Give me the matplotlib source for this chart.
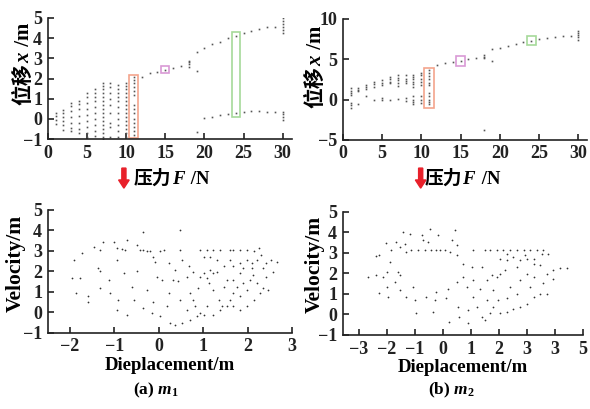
import matplotlib
matplotlib.use("Agg")
import matplotlib.pyplot as plt
from matplotlib.patches import Rectangle, FancyArrow

plt.rcParams['font.family'] = ['Liberation Serif', 'Noto Sans CJK SC', 'DejaVu Sans']
plt.rcParams['font.weight'] = 'bold'
plt.rcParams['mathtext.fontset'] = 'custom'
plt.rcParams['mathtext.rm'] = 'Liberation Serif:bold'
plt.rcParams['mathtext.it'] = 'Liberation Serif:italic:bold'
plt.rcParams['axes.unicode_minus'] = True

# bifurcation data, m1: force -> displacement values
bif1 = {
    1: [0.3, 0.15, -0.05, -0.25],
    2: [0.45, 0.3, 0.1, -0.1, -0.3, -0.55],
    3: [0.8, 0.65, 0.4, 0.1, -0.2, -0.45, -0.6],
    4: [0.9, 0.75, 0.5, 0.15, -0.2, -0.5, -0.7],
    5: [1.3, 1.1, 0.8, 0.5, 0.2, -0.1, -0.4, -0.7, -0.9],
    6: [1.5, 1.3, 1.1, 0.9, 0.6, 0.3, 0.0, -0.3, -0.6, -0.85],
    7: [1.8, 1.65, 1.5, 1.3, 1.1, 0.9, 0.7, 0.5, 0.3, 0.1, -0.1, -0.3, -0.5, -0.7, -0.9, -1.0],
    8: [1.8, 1.6, 1.3, 1.0, 0.7, 0.3, -0.2, -0.4, -0.9],
    9: [1.7, 1.5, 1.3, 1.1, 0.9, 0.6, 0.3, 0.0, -0.3, -0.6, -0.9],
    10: [1.8, 1.65, 1.5, 1.3, 1.1, 0.9, 0.7, 0.5, 0.3, 0.1, -0.1, -0.3, -0.5, -0.7, -0.9],
    11: [2.1, 1.95, 1.8, 1.6, 1.4, 1.2, 0.7, 0.5, 0.3, 0.0, -0.2, -0.4, -0.6, -0.8],
    12: [2.09], 13: [2.26], 14: [2.34], 15: [2.43], 16: [2.51], 17: [2.64],
    18: [2.59, 2.7, 2.8, 2.89],
    19: [3.33, 2.39, -0.63],
    20: [3.53, 0.03], 21: [3.7, 0.11], 22: [3.81, 0.18], 23: [4.0, 0.25],
    24: [4.11, 0.28], 25: [4.24, 0.36], 26: [4.37, 0.39], 27: [4.47, 0.39],
    28: [4.54, 0.36], 29: [4.54, 0.33],
    30: [4.27, 4.4, 4.55, 4.7, 4.85, 4.98, -0.05, 0.1, 0.22, 0.36],
}

# bifurcation data, m2
bif2 = {
    1: [1.4, 1.1, 0.8, 0.6, -0.4, -0.7, -1.0],
    2: [1.4, 1.2, 1.0, -0.5],
    3: [1.8, 1.5, 1.3, 0.4],
    4: [2.2, 1.9, 1.5, 0.0],
    5: [2.4, 2.1, 1.8, 0.2, 0.0],
    6: [2.8, 2.5, 2.2, 2.0, 0.0],
    7: [3.0, 2.7, 2.4, 2.0, 1.7, 0.1],
    8: [3.0, 2.6, 2.3, 2.0, 0.2, -0.2],
    9: [3.1, 2.8, 2.5, 2.2, 1.9, 1.6, 0.4, 0.0, -0.3, -0.6],
    10: [3.3, 3.0, 2.6, 2.2, 1.8, 0.4, 0.0, -0.4],
    11: [3.7, 3.3, 2.9, 2.5, 2.1, 1.8, 0.8, 0.4, 0.0, -0.3, -0.6],
    12: [4.3], 13: [4.5], 14: [4.63], 15: [4.83], 16: [5.0], 17: [5.13],
    18: [5.13, 5.3, 5.54, -3.75],
    19: [6.2, 4.83],
    20: [6.37], 21: [6.65], 22: [6.9], 23: [7.15], 24: [7.27], 25: [7.48],
    26: [7.6], 27: [7.72], 28: [7.85], 29: [7.85],
    30: [7.4, 7.7, 8.0, 8.2, 8.43],
}

# highlight boxes: (F0, F1, x0, x1, colour)
boxes1 = [(10.4, 11.5, -0.96, 2.18, '#f4a48c'),
          (14.4, 15.5, 2.26, 2.64, '#d99ad6'),
          (23.5, 24.5, 0.08, 4.29, '#a6d99a')]
boxes2 = [(10.4, 11.6, -1.07, 3.9, '#f4a48c'),
          (14.4, 15.6, 4.2, 5.4, '#d99ad6'),
          (23.4, 24.6, 6.7, 7.9, '#a6d99a')]

# phase portrait m1
disp1 = [-1.92, -1.96, -1.86, -1.59, -1.59, -1.74, -1.47, -1.32, -1.25, -1.36, -1.32, -1.10,
         -0.95, -1.02, -0.95, -0.83, -0.76, -0.72, -0.50, -0.42, -0.35, -0.27, -0.20, -0.36,
         -0.50, -0.91, -0.95, -0.72, -0.35, -0.27, -0.12, -0.08, -0.05, 0.03, 0.11, 0.07,
         0.22, 0.33, 0.48, 0.48, 0.52, 0.37, 0.44, 0.63, 0.03, 0.26, 0.37, 0.52, 0.71, 0.86,
         0.93, 1.01, 0.63, 0.78, 0.89, 0.93, 1.01, 1.08, 1.16, 1.23, 1.31, 1.12, 1.23, 1.35,
         1.42, 1.23, 0.93, 1.08, 1.23, 1.38, 1.01, 1.61, 1.68, 1.83, 1.98, 2.14, 2.29, 1.61,
         1.68, 1.83, 1.98, 2.09, 2.20, 2.42, 2.53, 2.65, 2.57, 2.42, 2.35, 2.27, 2.14, 1.98,
         1.83, 1.68, 1.61, 1.68, 1.76, 1.90, 2.05, 2.12, 2.20, 1.53, 1.46, 1.68, 1.83, 1.98,
         1.83, 1.53, 1.38, 1.08, 0.82, 0.71, 0.48, 0.18, -0.16, -0.56, -0.60, -0.78, -1.13,
         -1.32, -1.78, 2.45, 2.35, 2.09, 1.90, 1.46, 1.31, 1.16, 0.78, 0.67, 0.22, -0.12, 2.25]
vel1 = [2.56, 1.67, 0.94, 0.78, 0.53, 2.88, 3.20, 3.05, 3.45, 2.16, 1.18, 0.94,
        2.56, 3.45, 3.13, 3.08, 3.05, 3.53, 3.29, 3.05, 3.05, 2.97, 2.97, 3.94,
        2.00, 0.62, 0.13, -0.11, 0.21, 1.10, 0.53, 2.48, 1.75, 2.97, 3.05, 1.59,
        0.94, 1.59, 4.02, 3.05, 2.56, 2.07, 1.51, 1.75, -0.19, -0.52, -0.60, -0.52, -0.36, -0.19,
        -0.03, -0.11, 0.13, 0.62, 1.18, 1.75, 1.91, 1.67, 2.07, 1.91, 1.99, 1.43, 1.10, 0.62,
        0.29, -0.11, 3.05, 3.05, 3.05, 3.05, 2.72, 3.05, 3.05, 3.05, 3.05, 2.97, 2.80, 2.56,
        2.24, 2.40, 2.56, 2.40, 2.56, 2.40, 2.56, 2.48, 1.99, 1.75, 1.18, 0.94, 0.62, 0.29,
        0.13, 0.29, 0.62, 0.94, 1.26, 1.43, 1.59, 1.83, 1.43, 1.59, 1.26, 1.59, 1.91, 1.10,
        0.78, 0.29, 0.13, 0.29, 0.29, 0.94, 0.62, 0.29, -0.03, 0.62, 1.26, 1.91, 1.59,
        2.00, 1.67, 1.10, 2.16, 2.16, 2.16, 2.24, 2.56, 2.72, 1.99, 2.24, 2.40, 2.72, 3.13]

# phase portrait m2
disp2 = [-2.67, -2.40, -2.38, -2.26, -2.28, -2.04, -1.99, -1.99, -1.96, -1.90, -1.84, -1.66,
         -1.60, -1.54, -1.72, -1.54, -1.42, -1.36, -1.30, -1.18, -1.30, -1.06, -1.00, -0.94,
         -1.12, -0.88, -0.76, -0.70, -0.64, -0.53, -0.47, -0.41, -0.23, -0.11, -0.17, 0.07,
         0.25, 0.43, 0.49, 0.49, -0.59, -0.35, -0.23, -0.29, 0.13, 0.19, 0.23, 0.49, 0.55,
         0.58, 0.73, 0.85, 0.91, 0.91, 1.09, 1.09, 1.33, 1.39, 1.50, 1.56, 1.74, 1.92, 2.04,
         1.80, 1.98, 1.80, 2.04, 2.28, 2.52, 2.76, 3.00, 3.24, 3.47, 3.71, 3.59, 3.71, 3.95,
         4.19, 4.43, 3.77, 3.59, 3.35, 3.12, 2.88, 2.64, 2.40, 2.16, 1.92, 1.68, 1.50, 1.09,
         2.04, 2.28, 2.52, 2.76, 3.00, 3.24, 3.47, 2.64, 3.00, 3.24, 2.76, 2.40, 2.64, 3.12,
         2.28, 1.56, 1.21, 1.68, 2.22, 3.24, 2.28, 3.95, 3.53, 2.94, 1.39, 1.03, 0.73, 0.31,
         -1.54, -2.14]
vel2 = [1.83, 1.91, 2.84, 2.88, 1.05, 3.48, 2.07, 1.35, 0.86, 2.56, 3.13, 3.53,
        2.07, 1.91, 1.59, 1.18, 4.02, 3.45, 3.05, 3.94, 0.86, 1.35, 0.70, 0.05,
        3.13, 3.13, 3.86, 3.61, 3.13, 3.53, 4.18, 3.13, 3.13, 3.13, 3.86, 3.13,
        3.05, 4.10, 3.37, 2.88, 0.86, 0.13, 1.10, 0.70, 0.78, 1.26, -0.36, 1.59, 0.37,
        -0.11, 1.83, 1.35, 0.21, -0.44, 0.86, 1.67, 1.26, -0.11, -0.28, 1.67, 1.91, 1.83, 1.99,
        1.18, 0.70, 0.37, 0.05, 0.13, 0.29, 0.37, 0.53, 0.86, 1.02, 1.02, 1.51, 1.99, 2.16,
        2.24, 2.24, 2.97, 3.13, 3.13, 3.13, 3.13, 3.13, 3.13, 3.13, 3.13, 3.13, 3.13, 3.13,
        2.72, 2.64, 2.80, 2.64, 2.72, 2.48, 2.40, 2.32, 1.99, 1.83, 1.67, 1.35, 1.02, 1.35,
        0.78, 0.70, 0.37, 0.05, 2.16, 2.72, 2.97, 1.75, 2.97, 2.88, 2.32, 2.32, 2.48, 3.61,
        3.29, 1.83]

ticks_b2 = [-3, -2, -1, 0, 1, 2, 3, 4, 5]
ticklabels_b2 = ['\u22123', '\u22122', '\u22121', '0', '1', '2', '3', '3', '5']

W, H = 590, 409
fig = plt.figure(figsize=(W / 100, H / 100), dpi=100)
ax1 = fig.add_axes([0.081, 0.660, 0.414, 0.296])
ax2 = fig.add_axes([0.581, 0.658, 0.414, 0.296])
ax3 = fig.add_axes([0.081, 0.186, 0.414, 0.301])
ax4 = fig.add_axes([0.581, 0.181, 0.407, 0.301])

fs = 13
CJK = dict(family='Noto Sans CJK SC', weight='bold')
SER = dict(family='Liberation Serif', weight='bold')


def style(ax):
    for s in ['top', 'right']:
        ax.spines[s].set_visible(False)
    for s in ['left', 'bottom']:
        ax.spines[s].set_linewidth(1.2)
        ax.spines[s].set_color('#222222')
    ax.tick_params(direction='in', length=4, width=1.2, labelsize=fs, pad=4, colors='#222222')
    for lab in ax.get_xticklabels() + ax.get_yticklabels():
        lab.set_fontweight('bold')


def rich_text(x0, y0, pieces, size, vertical=False, center=True):
    # place text pieces of different fonts one after another (pixel coords, from bottom-left)
    r = fig.canvas.get_renderer()
    texts, lengths = [], []
    for s, props in pieces:
        t = fig.text(0, 0, s, fontsize=size, rotation=90 if vertical else 0,
                     rotation_mode='anchor', ha='left', va='baseline', **props)
        bb = t.get_window_extent(r)
        texts.append(t)
        lengths.append(bb.height if vertical else bb.width)
    total = sum(lengths)
    pos = -total / 2 if center else 0
    for t, L in zip(texts, lengths):
        if vertical:
            t.set_position((x0 / W, (y0 + pos) / H))
        else:
            t.set_position(((x0 + pos) / W, y0 / H))
        pos += L


def bifurcation(ax, data, boxes):
    for F, vals in data.items():
        ax.plot([F] * len(vals), vals, 's', ms=1.2, mew=0, color='#555555')
    for f0, f1, y0, y1, c in boxes:
        ax.add_patch(Rectangle((f0, y0), f1 - f0, y1 - y0, fill=False, ec=c, lw=1.2))
    ax.set_xticks([0, 5, 10, 15, 20, 25, 30])
    style(ax)


bifurcation(ax1, bif1, boxes1)
ax1.set_xlim(0, 31.2)
ax1.set_ylim(-1, 5)
ax1.set_yticks([-1, 0, 1, 2, 3, 4, 5])

bifurcation(ax2, bif2, boxes2)
ax2.set_xlim(0, 31.1)
ax2.set_ylim(-5, 10)
ax2.set_yticks([-5, 0, 5, 10])

ax3.scatter(disp1, vel1, s=1.6, color='#333333', lw=0)
ax3.set_xlim(-2.5, 3.0)
ax3.set_ylim(-1, 5)
ax3.set_xticks([-2, -1, 0, 1, 2, 3])
ax3.set_yticks([-1, 0, 1, 2, 3, 4, 5])
ax3.set_xlabel('Dieplacement/m', fontsize=13.5, fontweight='bold', labelpad=1)
style(ax3)

ax4.scatter(disp2, vel2, s=1.6, color='#333333', lw=0)
ax4.set_xlim(-3.57, 5.0)
ax4.set_ylim(-1, 5)
ax4.set_xticks(ticks_b2)
ax4.set_xticklabels(ticklabels_b2)
ax4.set_yticks([-1, 0, 1, 2, 3, 4, 5])
ax4.set_xlabel('Dieplacement/m', fontsize=13.5, fontweight='bold', labelpad=1)
style(ax4)

# y labels of the top panels
ylab = [('位移', CJK), ('$x$', SER), (' /m', SER)]
rich_text(29, 345, ylab, 15, vertical=True)
rich_text(321, 342, ylab, 15, vertical=True)

# x labels of the top panels
xlab = [('压力', CJK), ('$F$', SER), (' /N', SER)]
rich_text(134, 225, xlab, 13.5, center=False)
rich_text(425, 225, xlab, 13.5, center=False)

# y labels of the bottom panels
fig.text(16 / W, 1 - 263.5 / H, 'Velocity/m', rotation=90, ha='center', va='center',
         fontsize=15.5, fontweight='bold')
fig.text(315 / W, 1 - 264.5 / H, 'Velocity/m', rotation=90, ha='center', va='center',
         fontsize=15.5, fontweight='bold')

# red arrows next to the force labels
for xa in [0.210, 0.713]:
    fig.patches.append(FancyArrow(
        xa, 0.589, 0, -0.049, width=0.007, head_width=0.018, head_length=0.02,
        length_includes_head=True, color='#e8202a', transform=fig.transFigure, figure=fig))

fig.text(0.264, 0.046, '(a) $m_1$', ha='center', va='center', fontsize=12.5, fontweight='bold')
fig.text(0.765, 0.046, '(b) $m_2$', ha='center', va='center', fontsize=12.5, fontweight='bold')

fig.savefig('out.png', dpi=100)
